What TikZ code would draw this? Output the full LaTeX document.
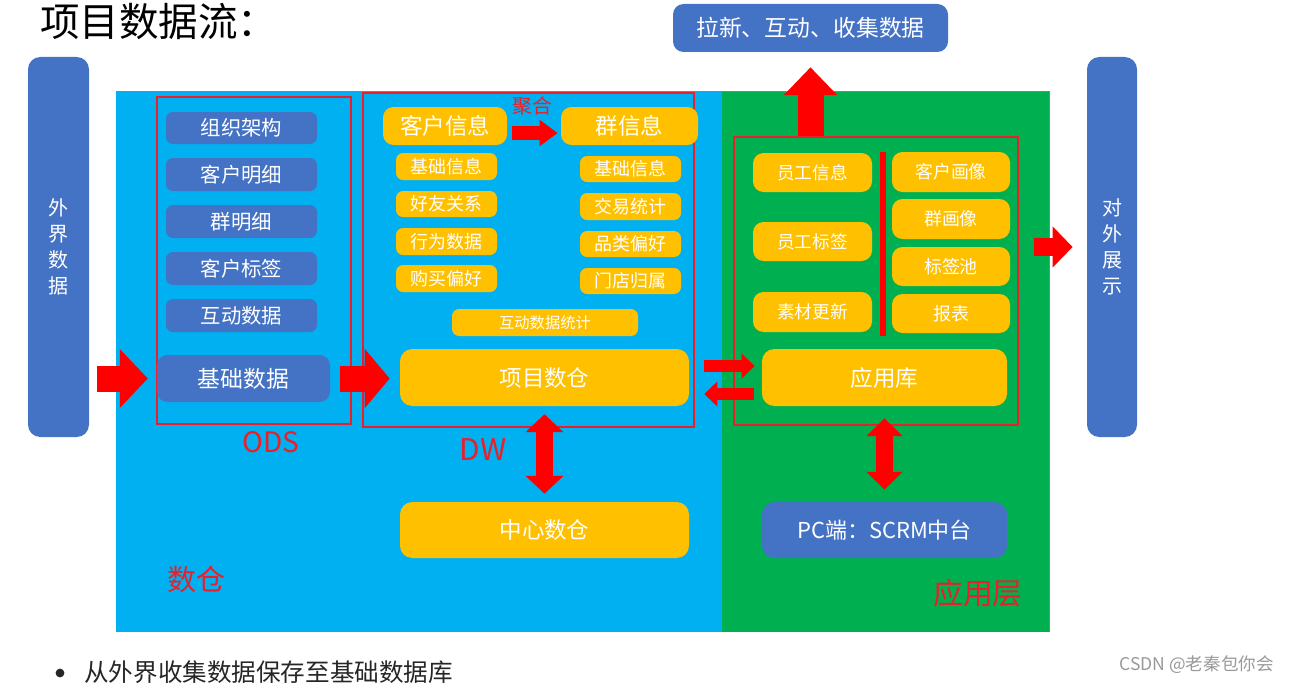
\documentclass[tikz,border=0pt]{standalone}
\usepackage{fontspec}
\setmainfont{Noto Sans CJK SC}
\usetikzlibrary{arrows.meta, positioning}

\definecolor{dcblue}{HTML}{00B0F0}
\definecolor{yygreen}{HTML}{00B050}
\definecolor{boxblue}{HTML}{4472C4}
\definecolor{boxyellow}{HTML}{FFC000}
\definecolor{framered}{HTML}{E8202A}
\newcommand{\fsz}[1]{\fontsize{#1}{#1}\selectfont}

\begin{document}
\begin{tikzpicture}[x=0.02cm, y=-0.02cm,
  boxspan/.style n args={4}{at={({(#1+#3)/2},{(#2+#4)/2})}, minimum width={(#3-#1)*0.02cm}, minimum height={(#4-#2)*0.02cm}},
  bbox/.style={fill=boxblue, rounded corners=4pt, inner sep=0pt, text=white},
  ybox/.style={fill=boxyellow, rounded corners=4pt, inner sep=0pt, text=white},
  redframe/.style={draw=framered, line width=1.2pt, inner sep=0pt},
  tag/.style={text=framered},
  fatarr/.style n args={3}{red, line width=#1, -{Triangle[length=#3, width=#2]}},
  fatdbl/.style n args={3}{red, line width=#1, {Triangle[length=#3, width=#2]}-{Triangle[length=#3, width=#2]}}]

\useasboundingbox (0,0) rectangle (1293,686);

% Title
\node[anchor=west, font=\fsz{22.5}] (title) at (34,22) {项目数据流：};

% Panels
\fill[dcblue] (116,91) rectangle (1050,632);
\fill[yygreen] (722,92) rectangle (1049,632);

% Outside boxes
\node[bbox, boxspan={28}{57}{89}{437}, rounded corners=7pt, align=center, font=\fontsize{11.4}{14.8}\selectfont] (wjsj) {外\\界\\数\\据};
\node[bbox, boxspan={1087}{57}{1137}{437}, rounded corners=7pt, align=center, font=\fontsize{11.4}{14.8}\selectfont] (dwzs) {对\\外\\展\\示};
\node[bbox, boxspan={673}{4}{948}{52}, rounded corners=6pt, font=\fsz{13}] (lx) {拉新、互动、收集数据};

% ODS
\node[redframe, boxspan={157}{97}{351}{424}] (ods) {};
\node[bbox, boxspan={166}{112}{317}{144}, font=\fsz{11.6}] (zzjg) {组织架构};
\node[bbox, boxspan={166}{158}{317}{191}, font=\fsz{11.6}] (khmx) {客户明细};
\node[bbox, boxspan={166}{205}{317}{238}, font=\fsz{11.6}] (qmx) {群明细};
\node[bbox, boxspan={166}{252}{317}{285}, font=\fsz{11.6}] (khbq) {客户标签};
\node[bbox, boxspan={166}{299}{317}{332}, font=\fsz{11.6}] (hdsj) {互动数据};
\node[bbox, boxspan={157}{355}{330}{402}, rounded corners=6pt, font=\fsz{13}] (jcsj) {基础数据};
\node[tag, font=\fsz{16}] (odstag) at (271,442) {ODS};

% DW
\node[redframe, boxspan={363}{93}{694}{427}] (dw) {};
\node[ybox, boxspan={383}{107}{507}{145}, rounded corners=6pt, font=\fsz{12.8}] (khxx) {客户信息};
\node[ybox, boxspan={561}{107}{698}{145}, rounded corners=6pt, font=\fsz{12.8}] (qxx) {群信息};
\node[tag, font=\fsz{11.3}] (jhtag) at (532,106) {聚合};
\node[ybox, boxspan={396}{153}{497}{180}, font=\fsz{10.2}] (kjcxx) {基础信息};
\node[ybox, boxspan={396}{191}{497}{217}, font=\fsz{10.2}] (hygx) {好友关系};
\node[ybox, boxspan={396}{228}{497}{255}, font=\fsz{10.2}] (xwsj) {行为数据};
\node[ybox, boxspan={396}{265}{497}{292}, font=\fsz{10.2}] (gmph) {购买偏好};
\node[ybox, boxspan={580}{156}{681}{182}, font=\fsz{10.2}] (qjcxx) {基础信息};
\node[ybox, boxspan={580}{193}{681}{220}, font=\fsz{10.2}] (jytj) {交易统计};
\node[ybox, boxspan={580}{231}{681}{257}, font=\fsz{10.2}] (plph) {品类偏好};
\node[ybox, boxspan={580}{268}{681}{294}, font=\fsz{10.2}] (mdgs) {门店归属};
\node[ybox, boxspan={452}{309}{638}{336}, font=\fsz{8.7}] (hdtj) {互动数据统计};
\node[ybox, boxspan={400}{349}{689}{406}, rounded corners=7pt, font=\fsz{12.8}] (xmsc) {项目数仓};
\node[ybox, boxspan={400}{502}{689}{558}, rounded corners=7pt, font=\fsz{12.8}] (zxsc) {中心数仓};
\node[tag, font=\fsz{17}] (dwtag) at (483,450) {DW};
\node[tag, font=\fsz{16.5}] (sctag) at (196,580) {数仓};

% Application layer
\node[redframe, boxspan={734}{137}{1018}{425}] (yyq) {};
\node[ybox, boxspan={753}{153}{872}{192}, rounded corners=6pt, font=\fsz{10}] (ygxx) {员工信息};
\node[ybox, boxspan={753}{222}{872}{261}, rounded corners=6pt, font=\fsz{10}] (ygbq) {员工标签};
\node[ybox, boxspan={753}{292}{872}{332}, rounded corners=6pt, font=\fsz{10}] (scgx) {素材更新};
\draw[red, line width=3.4pt] (883,152) -- (883,336);
\node[ybox, boxspan={892}{152}{1010}{192}, rounded corners=6pt, font=\fsz{10.2}] (khhx) {客户画像};
\node[ybox, boxspan={892}{199}{1010}{239}, rounded corners=6pt, font=\fsz{10.2}] (qhx) {群画像};
\node[ybox, boxspan={892}{247}{1010}{286}, rounded corners=6pt, font=\fsz{10.2}] (bqc) {标签池};
\node[ybox, boxspan={892}{294}{1010}{333}, rounded corners=6pt, font=\fsz{10.2}] (bb) {报表};
\node[ybox, boxspan={762}{349}{1007}{406}, rounded corners=7pt, font=\fsz{12.8}] (yyk) {应用库};
\node[bbox, boxspan={762}{502}{1007}{558}, rounded corners=7pt, font=\fsz{12.5}] (pc) {PC端：SCRM中台};
\node[tag, font=\fsz{17}] (yytag) at (978,593) {应用层};

% Arrows
\draw[fatarr={14.8pt}{32.4pt}{15.9pt}, shorten <=4.5pt, shorten >=5pt] (wjsj.east |- jcsj.west) -- (jcsj.west);
\draw[fatarr={14.8pt}{33pt}{14.2pt}, shorten <=5.7pt, shorten >=5.7pt] (jcsj.east) -- (jcsj.east -| xmsc.west);
\draw[fatarr={8.5pt}{14.2pt}{10.2pt}] ([shift={(5,7)}]khxx.east) -- ([shift={(-3,7)}]qxx.west);
\draw[fatarr={14.8pt}{29.6pt}{15.9pt}, shorten >=8.5pt] (lx.south |- yyq.north) -- (lx.south);
\draw[fatdbl={9.7pt}{21pt}{10.2pt}, shorten <=4.5pt, shorten >=4.5pt] (xmsc.south) -- (zxsc.north);
\draw[fatdbl={9.7pt}{20pt}{10.2pt}, shorten <=6.8pt, shorten >=6.8pt] (yyk.south) -- (pc.north);
\draw[fatarr={6.8pt}{13.7pt}{7.4pt}, shorten <=8.5pt, shorten >=4pt] ([yshift=6.5pt]xmsc.east) -- ([yshift=6.5pt]xmsc.east -| yyk.west);
\draw[fatarr={6.8pt}{13.7pt}{7.4pt}, shorten <=4.5pt, shorten >=8.5pt] ([yshift=-9.4pt]yyk.west) -- ([yshift=-9.4pt]yyk.west -| xmsc.east);
\draw[fatarr={10.2pt}{22.8pt}{11.4pt}, shorten <=8.5pt, shorten >=8pt] (yyq.east |- dwzs.west) -- (dwzs.west);

% Bottom text
\node[circle, fill=black!85, inner sep=0pt, minimum size=5pt] (dot) at (60,673) {};
\node[anchor=west, font=\fsz{14}, text=black!85] (note) at (78,672) {从外界收集数据保存至基础数据库};
\node[anchor=east, font=\fsz{10}, text=black!40] (csdn) at (1280,665) {CSDN @老秦包你会};

\end{tikzpicture}
\end{document}
